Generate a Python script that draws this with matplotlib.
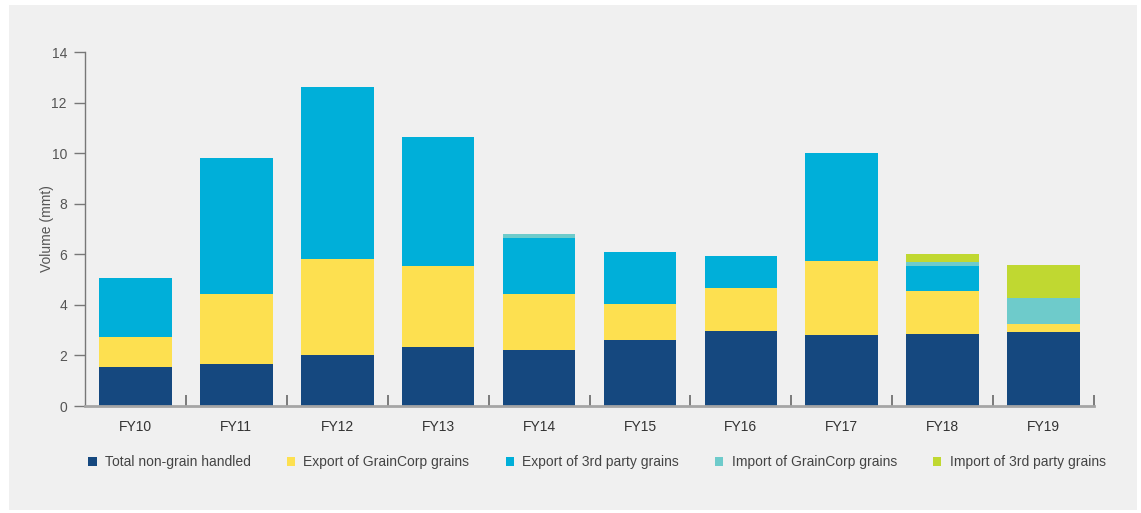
import numpy as np
import matplotlib.pyplot as plt
from matplotlib.patches import Rectangle
from matplotlib.ticker import FixedLocator

years = ['FY10', 'FY11', 'FY12', 'FY13', 'FY14', 'FY15', 'FY16', 'FY17', 'FY18', 'FY19']
non_grain = [1.55, 1.66, 2.02, 2.33, 2.21, 2.61, 2.97, 2.81, 2.85, 2.93]
export_gc = [1.18, 2.77, 3.79, 3.21, 2.23, 1.42, 1.70, 2.92, 1.70, 0.31]
export_3rd = [2.33, 5.38, 6.80, 5.10, 2.20, 2.06, 1.26, 4.27, 0.99, 0.0]
import_gc = [0.0, 0.0, 0.0, 0.0, 0.16, 0.0, 0.0, 0.0, 0.15, 1.03]
import_3rd = [0.0, 0.0, 0.0, 0.0, 0.0, 0.0, 0.0, 0.0, 0.32, 1.31]

series = [
    ('Total non-grain handled', non_grain, '#15487f'),
    ('Export of GrainCorp grains', export_gc, '#fde050'),
    ('Export of 3rd party grains', export_3rd, '#00afd9'),
    ('Import of GrainCorp grains', import_gc, '#6ecbcb'),
    ('Import of 3rd party grains', import_3rd, '#c0d831'),
]

plt.rcParams['font.family'] = ['Liberation Sans', 'DejaVu Sans']

fig = plt.figure(figsize=(11.41, 5.13), dpi=100, facecolor='white')
W, H = 1141, 513
fig.patches.append(Rectangle((9 / W, 1 - 510 / H), 1128 / W, 505 / H,
                             transform=fig.transFigure, facecolor='#f0f0f0',
                             edgecolor='none', zorder=-10))

ax = fig.add_axes([85 / W, 1 - 406 / H, 1009 / W, 354 / H])
ax.set_facecolor('none')

x = np.arange(len(years))
bottom = np.zeros(len(years))
handles = []
for name, vals, color in series:
    vals = np.array(vals)
    b = ax.bar(x, vals, width=0.72, bottom=bottom, color=color, label=name, zorder=2)
    bottom += vals
    handles.append(b)

ax.set_xlim(-0.5, 9.5)
ax.set_ylim(0, 14)
ax.set_yticks(np.arange(0, 15, 2))
ax.set_xticks(x)
ax.set_xticklabels(years)
ax.xaxis.set_minor_locator(FixedLocator(np.arange(0.5, 10, 1)))
ax.tick_params(axis='x', which='major', length=0, pad=10, labelsize=10, labelcolor='#333333')
ax.tick_params(axis='x', which='minor', length=8, direction='in', color='#666666', width=1.2)
ax.tick_params(axis='y', length=8, color='#777777', width=1, labelsize=10, labelcolor='#555555', pad=5)

for s in ['top', 'right']:
    ax.spines[s].set_visible(False)
ax.spines['left'].set_color('#777777')
ax.spines['left'].set_linewidth(1)
ax.spines['bottom'].set_color('#a5a5a5')
ax.spines['bottom'].set_linewidth(2)
ax.spines['bottom'].set_zorder(3)

ax.set_ylabel('Volume (mmt)', fontsize=10, color='#555555')
ax.yaxis.set_label_coords(-0.031, 0.5)

fig.legend(handles=handles, loc='center', bbox_to_anchor=(597 / W, 1 - 462 / H), ncol=5,
           frameon=False, fontsize=10, handlelength=0.6, handleheight=0.6,
           handletextpad=0.6, columnspacing=2.6, labelcolor='#444444')

fig.savefig('out.png', dpi=100, facecolor='white')
